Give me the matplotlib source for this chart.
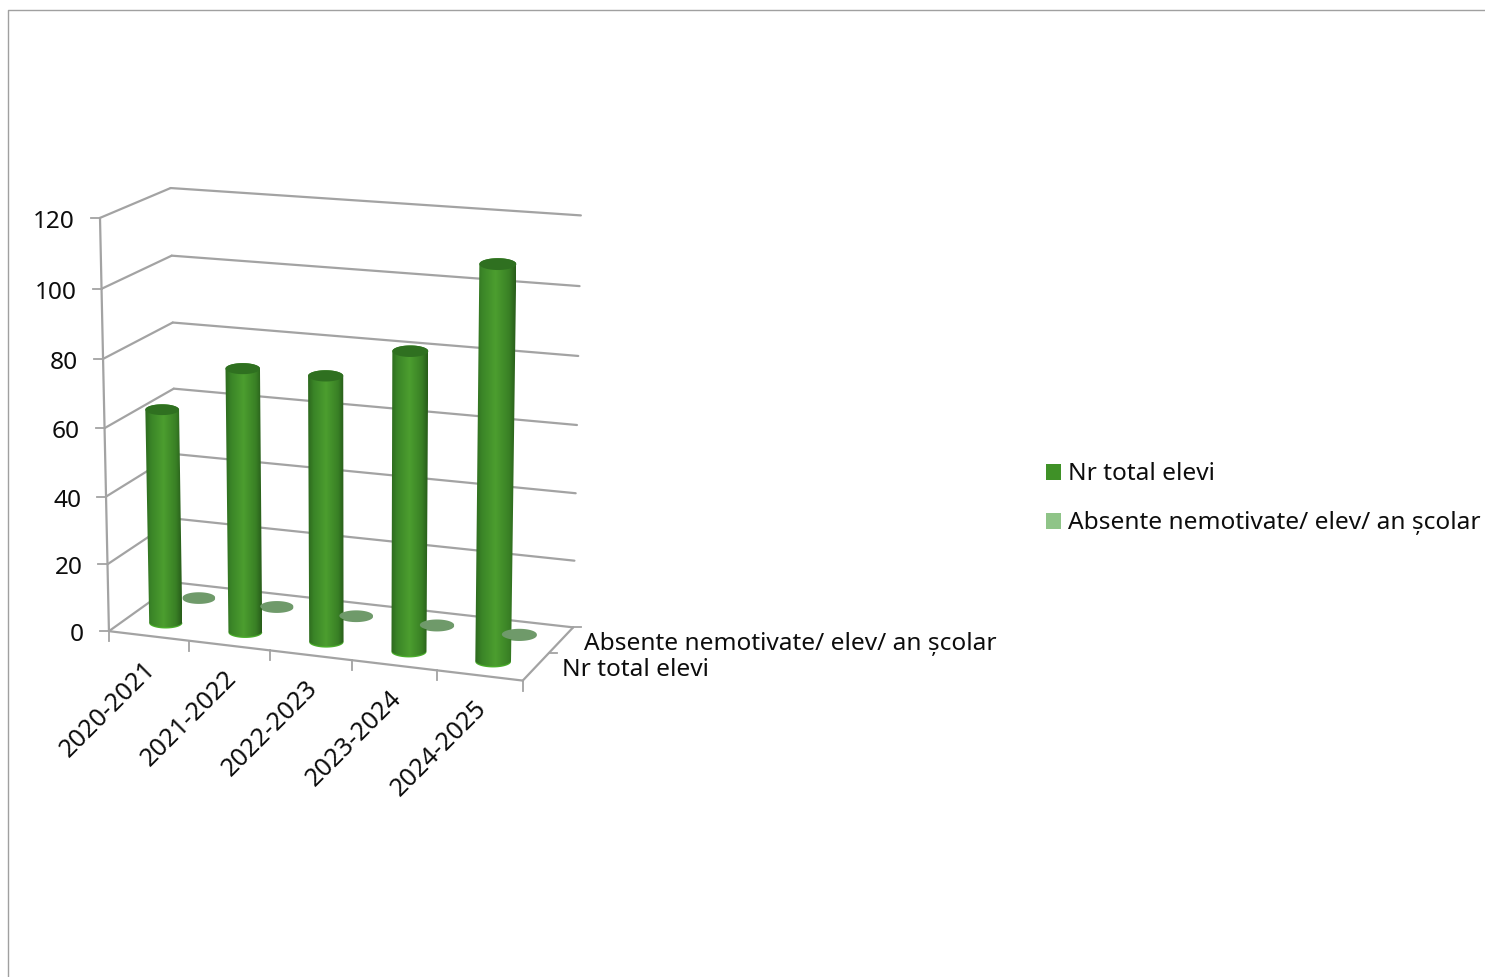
import numpy as np
import matplotlib
matplotlib.use("Agg")
import matplotlib.pyplot as plt
from matplotlib.colors import LinearSegmentedColormap
from matplotlib.patches import Patch, Polygon

plt.rcParams['font.family'] = ['Noto Sans', 'DejaVu Sans']

# ---- chart values -------------------------------------------------------
categories = ['2020-2021', '2021-2022', '2022-2023', '2023-2024', '2024-2025']
series_names = ['Nr total elevi', 'Absente nemotivate/ elev/ an școlar']
nr_total_elevi = [63.5, 77.5, 77.5, 86.5, 112.5]
absente_nemotivate = [0.4, 0.4, 0.3, 0.3, 0.3]
value_ticks = [0, 20, 40, 60, 80, 100, 120]

GRID = '#a3a3a3'
TXT = '#0d0d0d'
FS = 17.6

# ---- camera: fit a 3D -> pixel projection to the reference's box corners --
front_left = [(108, 630), (107, 563), (105, 497), (104, 428), (103, 358), (101, 288), (100, 218)]
back_left = [(177, 582), (176, 519), (174, 454), (173, 388), (172, 322), (171, 255), (170, 187)]
back_right = [(572, 627), (574, 560), (575, 492), (577, 425), (578, 355), (579, 286), (580, 215)]
front_edge = [(188, 640), (269, 650), (352, 660), (436, 670), (523, 680)]
SHIFT_X, SHIFT_Y = 0.5, 1.5

obs = []
for v, p in zip(value_ticks, front_left):
    obs.append((0, v / 120, 0, *p))
for v, p in zip(value_ticks, back_left):
    obs.append((0, v / 120, 2, *p))
for v, p in zip(value_ticks, back_right):
    obs.append((5, v / 120, 2, *p))
for i, p in enumerate(front_edge):
    obs.append((i + 1, 0, 0, *p))

rows = []
for u, v, d, px, py in obs:
    px, py = px / 1000, py / 1000
    rows.append([u, v, d, 1, 0, 0, 0, 0, -px * u, -px * v, -px * d, -px])
    rows.append([0, 0, 0, 0, u, v, d, 1, -py * u, -py * v, -py * d, -py])
CAM = np.linalg.svd(np.array(rows))[2][-1].reshape(3, 4)


def project(u, val, d):
    """category position, value, depth position -> pixel x, y"""
    u, val, d = np.broadcast_arrays(np.asarray(u, float), np.asarray(val, float), np.asarray(d, float))
    h = np.stack([u, val / 120, d, np.ones_like(u, dtype=float)])
    q = CAM @ h.reshape(4, -1)
    return ((q[0] / q[2] * 1000).reshape(u.shape) + SHIFT_X,
            (q[1] / q[2] * 1000).reshape(u.shape) + SHIFT_Y)


# ---- figure ---------------------------------------------------------------
fig = plt.figure(figsize=(14.85, 9.78), dpi=100)
ax = fig.add_axes([0, 0, 1, 1])
ax.axis('off')

# outer chart frame (only top and left are inside the crop)
ax.plot([8.0, 8.0, 1485], [978, 10.5, 10.5], color='#a0a0a0', lw=1.0, solid_capstyle='butt')


def seg(a, b, **kw):
    x0, y0 = project(*a)
    x1, y1 = project(*b)
    ax.plot([x0, x1], [y0, y1], color=GRID, lw=1.6, solid_capstyle='round', **kw)


for v in value_ticks:
    seg((0, v, 0), (0, v, 2))
    seg((0, v, 2), (5, v, 2))
    x, y = project(0, v, 0)
    ax.plot([x - 9, x], [y, y], color=GRID, lw=1.3)
    ax.text(x - 25, y + 3, str(v), ha='right', va='center', fontsize=FS, color=TXT)
seg((0, 0, 0), (0, 120, 0))
seg((0, 0, 0), (5, 0, 0))
seg((5, 0, 0), (5, 0, 2))

for i in range(6):
    x, y = project(i, 0, 0)
    ax.plot([x, x], [y, y + 10], color=GRID, lw=1.3)
for j in (1, 2):
    x, y = project(5, 0, j)
    ax.plot([x, x + 8], [y, y], color=GRID, lw=1.3)

for i, c in enumerate(categories):
    x, y = project(i + 0.5, 0, 0)
    ax.text(x + 3.5, y + 28.5, c, rotation=45, rotation_mode='anchor', ha='right', va='center',
            fontsize=18.2, color=TXT)

x, y = project(5, 0, 1.5)
ax.text(x + 22.5, y + 2.5, series_names[1], ha='left', va='center', fontsize=FS, color=TXT)
x, y = project(5, 0, 0.5)
ax.text(x + 26.5, y + 2.5, series_names[0], ha='left', va='center', fontsize=FS, color=TXT)

# ---- cylinders ------------------------------------------------------------
R_U, ELLIPSE_RATIO = 0.21, 0.32
side_cmap = LinearSegmentedColormap.from_list(
    'side', [(0, '#2c681d'), (0.16, '#3a8427'), (0.5, '#4c9e2f'), (0.84, '#398025'), (1, '#285c1a')])


def ring(cu, cd, val, t0=0.0, t1=2 * np.pi, n=72):
    """Level ellipse of a cylinder: its axes stay horizontal on the picture."""
    t = np.linspace(t0, t1, n)
    xl, _ = project(cu - R_U, val, cd)
    xr, _ = project(cu + R_U, val, cd)
    xc, yc = project(cu, val, cd)
    a = (xr - xl) / 2
    return np.column_stack([xc + a * np.cos(t), yc + ELLIPSE_RATIO * a * np.sin(t)])


def cylinder(cu, cd, val, top, rim, shaded):
    ax.add_patch(Polygon(ring(cu, cd, 0), closed=True, fc=rim, ec='none', zorder=3))
    if shaded:
        base = 0.4
        # lower half of the base ellipse + upper half of the top ellipse (y axis points down)
        outline = np.vstack([ring(cu, cd, base, np.pi, 0), ring(cu, cd, val, 0, -np.pi)])
        clip = Polygon(outline, closed=True, fc='none', ec='none', transform=ax.transData)
        ax.add_patch(clip)
        x0, x1 = outline[:, 0].min(), outline[:, 0].max()
        y0, y1 = outline[:, 1].min(), outline[:, 1].max()
        im = ax.imshow(np.linspace(0, 1, 128)[None, :], cmap=side_cmap, extent=(x0, x1, y1, y0),
                       aspect='auto', interpolation='bilinear', zorder=3)
        im.set_clip_path(clip)
    ax.add_patch(Polygon(ring(cu, cd, val), closed=True, fc=top, ec='none', zorder=3.1))


for i, v in enumerate(absente_nemotivate):
    cylinder(i + 0.5, 1.5, v, '#6f9a6a', '#6f9a6a', False)
for i, v in enumerate(nr_total_elevi):
    cylinder(i + 0.5, 0.5, v, '#2f7020', '#4aae2b', True)

ax.set_xlim(0, 1485)
ax.set_ylim(978, 0)

# ---- legend ---------------------------------------------------------------
handles = [Patch(fc='#3f9127', ec='none', label=series_names[0]),
           Patch(fc='#8fc488', ec='none', label=series_names[1])]
leg = ax.legend(handles=handles, loc='upper left', bbox_to_anchor=(1046 / 1485, 1 - 462 / 978),
                bbox_transform=fig.transFigure, frameon=False, fontsize=FS, labelcolor=TXT,
                handlelength=0.61, handleheight=0.61, handletextpad=0.29, labelspacing=1.02,
                borderpad=0, borderaxespad=0)
for h in leg.legend_handles:
    h.set_y(h.get_y() - 1.1)

fig.savefig('out.png', dpi=100)
